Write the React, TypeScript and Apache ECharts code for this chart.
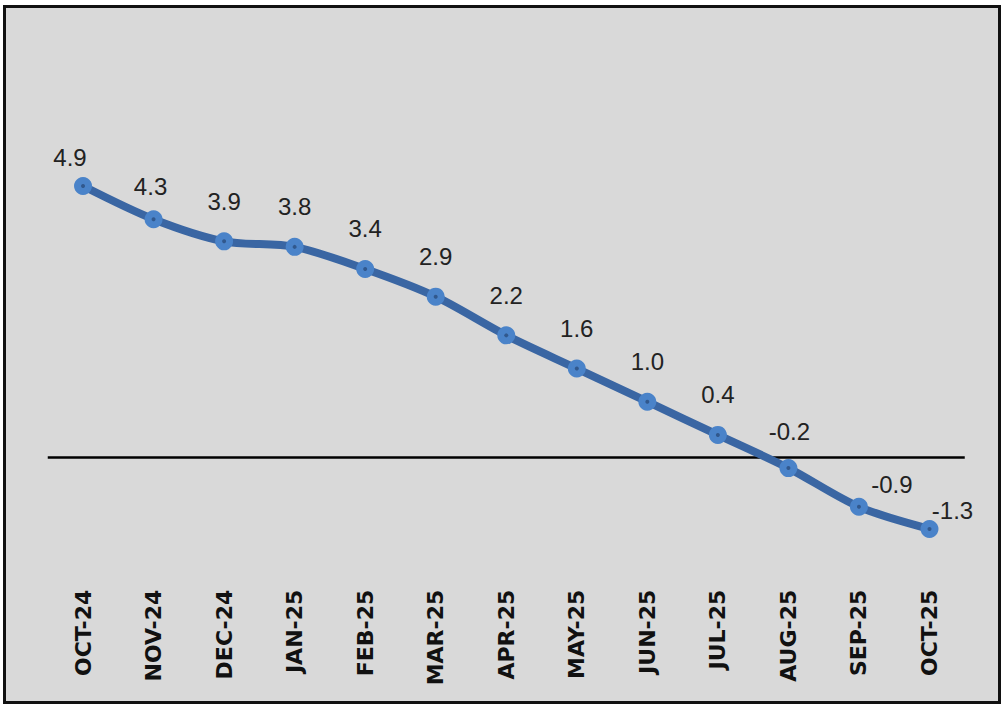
import React, { useEffect, useRef } from "react";
import * as echarts from "echarts";

const categories = [
  "OCT-24", "NOV-24", "DEC-24", "JAN-25", "FEB-25", "MAR-25", "APR-25",
  "MAY-25", "JUN-25", "JUL-25", "AUG-25", "SEP-25", "OCT-25",
];
const values = [4.9, 4.3, 3.9, 3.8, 3.4, 2.9, 2.2, 1.6, 1.0, 0.4, -0.2, -0.9, -1.3];
const labelTexts = ["4.9", "4.3", "3.9", "3.8", "3.4", "2.9", "2.2", "1.6", "1.0", "0.4", "-0.2", "-0.9", "-1.3"];

// label offset tweaks (styling only)
const labelOffsets: Record<number, [number, number]> = {
  0: [-13, 11],
  1: [-3, 7],
  10: [1, 3],
  11: [33, 18],
  12: [23, 22],
};

export default function App() {
  const ref = useRef<HTMLDivElement>(null);
  useEffect(() => {
    if (!ref.current) return;
    const chart = echarts.init(ref.current, null, { renderer: "svg" });
    const lineData = values.map((v, i) => ({
      value: v,
      label: labelOffsets[i] ? { offset: labelOffsets[i] } : undefined,
    }));
    chart.setOption({
      animation: false,
      backgroundColor: "#ffffff",
      graphic: [
        {
          type: "rect",
          z: -10,
          silent: true,
          shape: { x: 4.5, y: 6.5, width: 995, height: 696 },
          style: { fill: "#d9d9d9", stroke: "#111111", lineWidth: 3 },
        },
      ],
      grid: { left: 47.75, right: 40.25, top: 42.25, bottom: 129.3 },
      xAxis: {
        type: "category",
        data: categories,
        boundaryGap: true,
        axisLine: { show: false },
        axisTick: { show: false },
        axisLabel: {
          rotate: 90,
          margin: 11,
          fontFamily: "DejaVu Sans",
          fontWeight: "bold",
          fontSize: 22,
          color: "#111111",
        },
      },
      yAxis: {
        type: "value",
        min: -2.2,
        max: 7.5,
        show: false,
        splitLine: { show: false },
      },
      series: [
        {
          type: "line",
          data: lineData,
          smooth: 0.3,
          symbol: "circle",
          symbolSize: 18,
          lineStyle: { color: "#3a66a3", width: 8 },
          itemStyle: { color: "#4a83c9" },
          label: {
            show: true,
            position: "top",
            distance: 19,
            formatter: (p: any) => labelTexts[p.dataIndex],
            fontFamily: "'Liberation Sans Narrow', 'Liberation Sans', sans-serif",
            fontSize: 24,
            color: "#222222",
          },
          markLine: {
            silent: true,
            symbol: "none",
            label: { show: false },
            lineStyle: { color: "#000000", width: 2.5, type: "solid" },
            data: [{ yAxis: 0 }],
            z: 1,
          },
          z: 3,
        },
        {
          type: "scatter",
          data: values,
          symbol: "circle",
          symbolSize: 4,
          itemStyle: { color: "#2b4d7e" },
          z: 5,
          silent: true,
        },
      ],
    });
    return () => chart.dispose();
  }, []);
  return (
    <div
      ref={ref}
      style={{ position: "fixed", left: 0, top: 0, width: 1005, height: 708 }}
    />
  );
}
